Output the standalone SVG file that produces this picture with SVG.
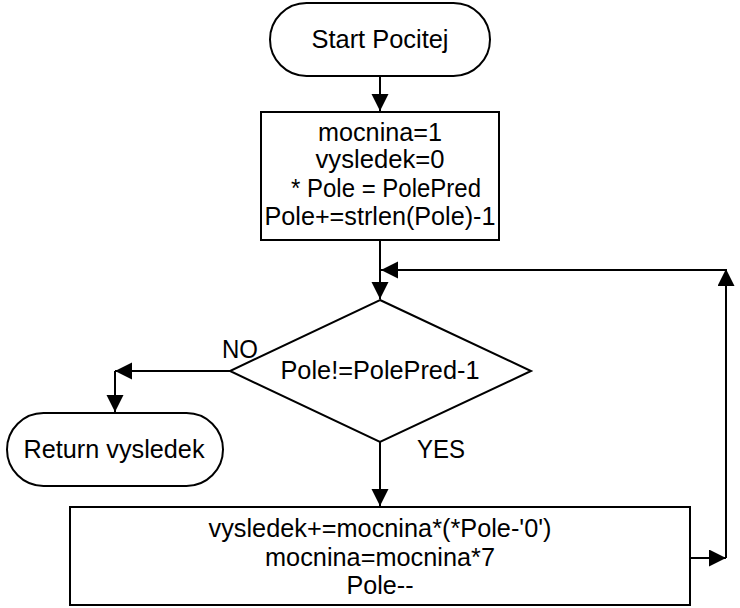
<svg xmlns="http://www.w3.org/2000/svg" width="740" height="608" viewBox="0 0 740 608">
<style>
.shape{fill:#fff;stroke:#000;stroke-width:2}
.conn{fill:none;stroke:#000;stroke-width:2}
text{font-family:"Liberation Sans",Arial,sans-serif;font-size:25px;fill:#000}
.c{text-anchor:middle}
</style>
<defs>
<marker id="arr" markerUnits="userSpaceOnUse" markerWidth="18" markerHeight="18" refX="17" refY="8.5" orient="auto">
<path d="M0,0 L17,8.5 L0,17 z" fill="#000"/>
</marker>
</defs>
<rect x="0" y="0" width="740" height="608" fill="#fff"/>
<g id="connectors">
<path class="conn" d="M380,77 L380,111" marker-end="url(#arr)"/>
<path class="conn" d="M380,241 L380,299" marker-end="url(#arr)"/>
<path class="conn" d="M690,558 L726,558" marker-end="url(#arr)"/>
<path class="conn" d="M726,558 L726,269" marker-end="url(#arr)"/>
<path class="conn" d="M726,270 L381,270" marker-end="url(#arr)"/>
<path class="conn" d="M230,371 L115,371" marker-end="url(#arr)"/>
<path class="conn" d="M115,371 L115,412" marker-end="url(#arr)"/>
<path class="conn" d="M380,442 L380,506" marker-end="url(#arr)"/>
</g>
<g id="start">
<rect class="shape" x="270" y="3" width="220" height="73" rx="36.5" ry="36.5"/>
<text class="c" x="380" y="48" textLength="137" lengthAdjust="spacingAndGlyphs">Start Pocitej</text>
</g>
<g id="init">
<rect class="shape" x="261" y="112" width="238" height="128"/>
<text class="c" x="380" y="141" textLength="124" lengthAdjust="spacingAndGlyphs">mocnina=1</text>
<text class="c" x="380" y="168" textLength="129" lengthAdjust="spacingAndGlyphs">vysledek=0</text>
<text class="c" x="386" y="197" textLength="190" lengthAdjust="spacingAndGlyphs">* Pole = PolePred</text>
<text class="c" x="380" y="225" textLength="231" lengthAdjust="spacingAndGlyphs">Pole+=strlen(Pole)-1</text>
</g>
<g id="decision">
<polygon class="shape" points="380,300 531,371 380,442 230,371"/>
<text class="c" x="380" y="379" textLength="199" lengthAdjust="spacingAndGlyphs">Pole!=PolePred-1</text>
<text x="222" y="358" textLength="36" lengthAdjust="spacingAndGlyphs">NO</text>
<text x="417" y="458" textLength="48" lengthAdjust="spacingAndGlyphs">YES</text>
</g>
<g id="return">
<rect class="shape" x="7" y="413" width="216" height="73" rx="36.5" ry="36.5"/>
<text class="c" x="114" y="458" textLength="181" lengthAdjust="spacingAndGlyphs">Return vysledek</text>
</g>
<g id="body">
<rect class="shape" x="70" y="507" width="620" height="98"/>
<text class="c" x="380" y="537" textLength="343" lengthAdjust="spacingAndGlyphs">vysledek+=mocnina*(*Pole-'0')</text>
<text class="c" x="380" y="566" textLength="230" lengthAdjust="spacingAndGlyphs">mocnina=mocnina*7</text>
<text class="c" x="380" y="594" textLength="67" lengthAdjust="spacingAndGlyphs">Pole--</text>
</g>
</svg>
